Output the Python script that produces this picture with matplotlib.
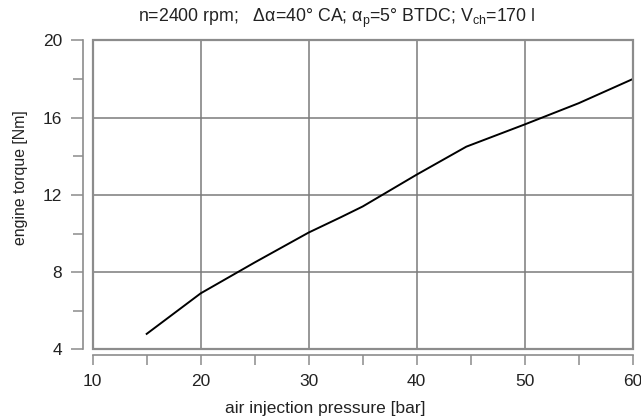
import numpy as np
import matplotlib
matplotlib.use('Agg')
import matplotlib.pyplot as plt
from matplotlib.patches import Rectangle
from matplotlib.ticker import MultipleLocator

# torque vs. air injection pressure, read at n=2400 rpm
pressure = [15, 20, 25, 30, 33, 35, 40, 44.6, 50, 55, 60]
torque = [4.8, 6.9, 8.5, 10.05, 10.85, 11.4, 13.05, 14.5, 15.65, 16.75, 18.0]

xticks = [10, 20, 30, 40, 50, 60]
yticks = [4, 8, 12, 16, 20]

title = ('n=2400 rpm;   \u0394\u03b1=40\u00b0 CA; \u03b1$_{\\mathrm{p}}$=5\u00b0 BTDC; '
         'V$_{\\mathrm{ch}}$=170 l')

plt.rcParams['font.family'] = ['Liberation Sans', 'DejaVu Sans']
plt.rcParams['mathtext.fontset'] = 'custom'
plt.rcParams['mathtext.rm'] = 'Liberation Sans'
plt.rcParams['mathtext.it'] = 'Liberation Sans:italic'

gray = '#8c8c8c'
txt = '#222222'

fig = plt.figure(figsize=(6.41, 4.20), dpi=100)
ax = fig.add_axes([0.1446, 0.1683, 0.8424, 0.7353])

ax.plot(pressure, torque, color='black', lw=1.4, zorder=3)

ax.set_xlim(10, 60)
ax.set_ylim(4, 20)
ax.set_xticks(xticks)
ax.set_yticks(yticks)
ax.xaxis.set_minor_locator(MultipleLocator(5))
ax.yaxis.set_minor_locator(MultipleLocator(2))
ax.grid(True, which='major', color='#7a7a7a', lw=1.1)

# detached axis lines, plus a closed frame round the plot area
for s in ['top', 'right']:
    ax.spines[s].set_visible(False)
ax.spines['left'].set_position(('outward', 7))
ax.spines['bottom'].set_position(('outward', 4))
for s in ['left', 'bottom']:
    ax.spines[s].set_color(gray)
    ax.spines[s].set_linewidth(1.2)
ax.add_patch(Rectangle((0, 0), 1, 1, transform=ax.transAxes, fill=False,
                       edgecolor=gray, lw=1.6, zorder=4, clip_on=False))

ax.tick_params(axis='both', which='both', direction='out', color=gray,
               width=1.1, labelcolor=txt, labelsize=12.5)
ax.tick_params(axis='y', which='major', length=9, pad=6)
ax.tick_params(axis='y', which='minor', length=7)
ax.tick_params(axis='x', which='major', length=7.5, pad=6)
ax.tick_params(axis='x', which='minor', length=7.5)

fig.text(337 / 641, 1 - 18 / 420, title, ha='center', va='center',
         fontsize=12.8, color=txt)
fig.text(325 / 641, 1 - 409 / 420, 'air injection pressure [bar]',
         ha='center', va='center', fontsize=12.5, color=txt)
fig.text(20.5 / 641, 1 - 178 / 420, 'engine torque [Nm]', rotation=90,
         ha='center', va='center', fontsize=11.4, color=txt)

fig.savefig('out.png', dpi=100)
